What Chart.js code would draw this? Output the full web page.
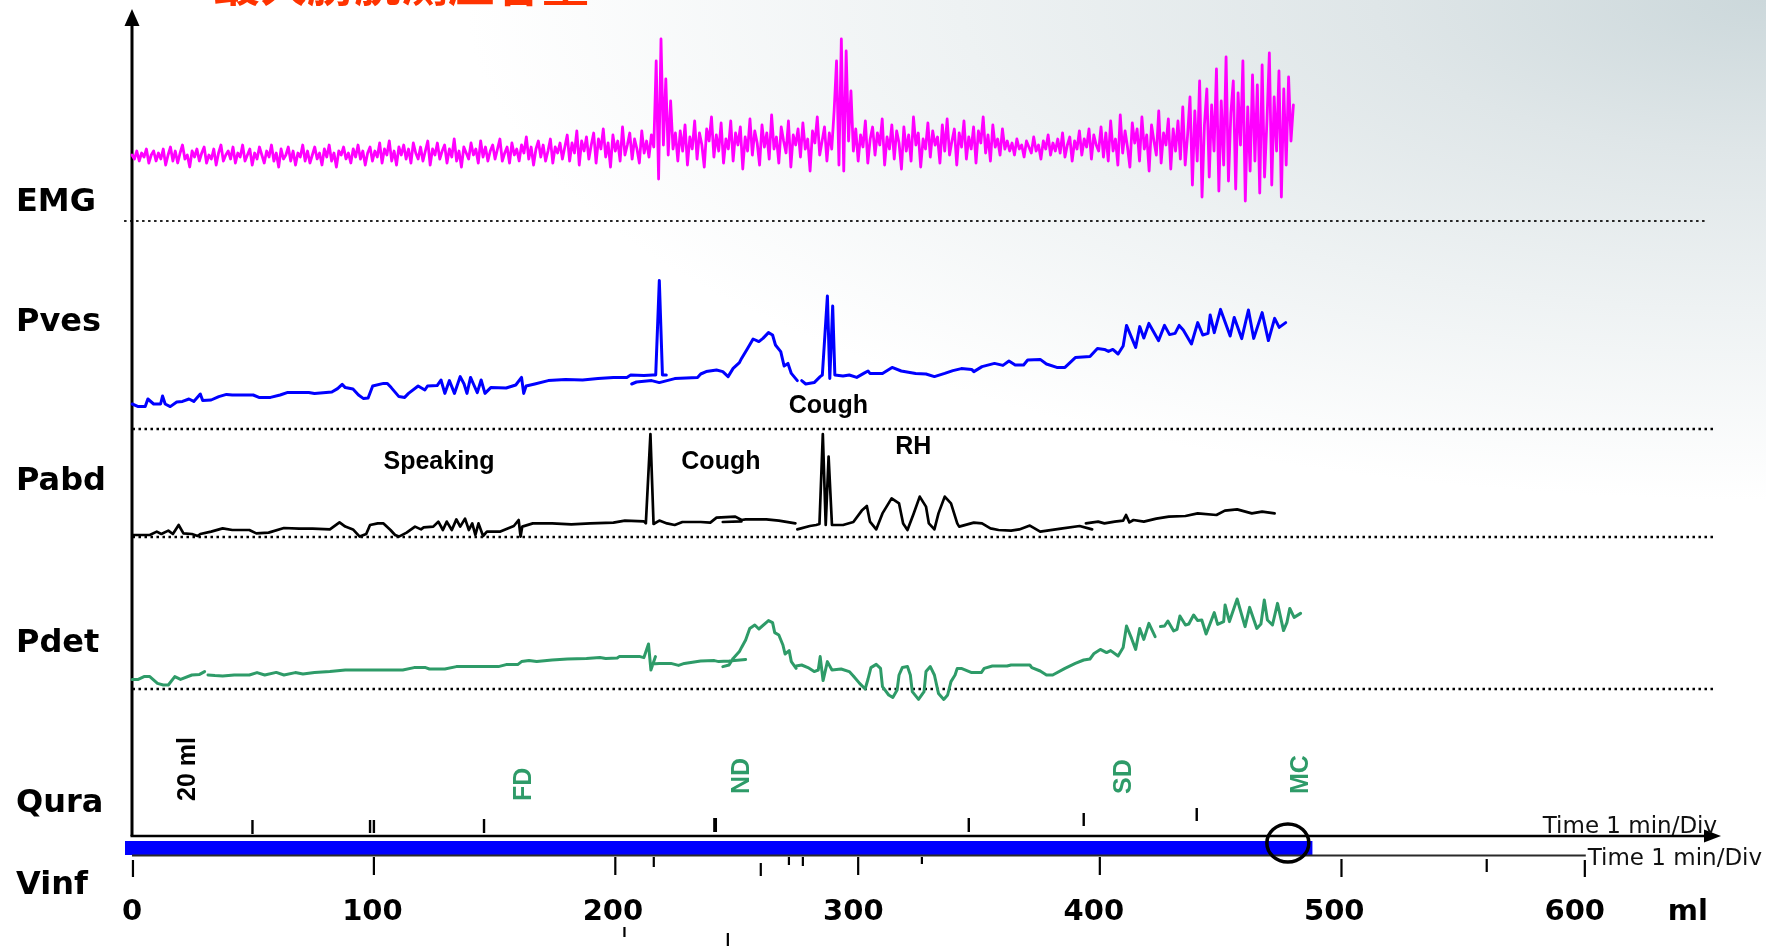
<!DOCTYPE html>
<html>
<head>
<meta charset="utf-8">
<script src="https://cdn.jsdelivr.net/npm/chart.js@4.4.1/dist/chart.umd.min.js"></script>
<style>
html,body{margin:0;padding:0;width:1766px;height:946px;overflow:hidden;}
body{background:radial-gradient(1300px 500px at 100% 0%, #ccd8db 0%, #dfe6e8 30%, #eef2f3 62%, #ffffff 100%);}
canvas{display:block;}
</style>
</head>
<body>
<canvas id="c" width="1766" height="946"></canvas>
<script>
// ---------------- DATA ----------------
const X_TICKS = [0, 100, 200, 300, 400, 500, 600];
const CHANNELS = ['EMG', 'Pves', 'Pabd', 'Pdet', 'Qura', 'Vinf'];

// EMG amplitude, one sample per ml starting at 0 ml
const EMG_START = 0, EMG_STEP = 1;
const EMG = [
33,31,35,30,34,32,36,29,33,35, 30,34,31,36,28,33,37,30,35,29, 34,38,31,33,27,35,32,36,30,34,
37,29,33,31,36,28,34,38,30,33, 35,31,37,29,34,32,38,30,33,36, 28,34,31,37,33,29,35,32,38,30,
34,27,36,31,33,37,30,35,28,34, 32,38,30,35,29,33,37,31,34,28, 36,32,38,30,34,27,35,33,37,31,
34,29,36,32,38,31,35,28,34,37,
30,35,32,39,29,36,33,40,30,35, 28,37,33,38,31,36,29,39,34,31, 37,30,35,40,28,36,33,39,31,35,
38,29,36,32,41,30,35,27,37,34, 31,39,33,36,29,40,32,37,30,35, 38,31,36,41,30,34,37,29,39,33,
36,30,38,34,42,31,37,28,36,40, 32,38,30,35,41,29,37,34,39,31,
37,43,30,39,34,45,28,40,35,42, 31,38,44,29,41,36,46,32,39,27, 43,35,40,30,47,33,38,44,31,41,
36,29,45,34,40,32,43,37,
80,21,91,38,71,33,60,36,44,
30,45,35,48,28,42,36,50,31,44, 38,27,46,40,52,32,43,35,49,29, 41,36,50,30,44,38,47,26,42,35,
51,33,45,39,28,48,37,44,31,53, 36,42,29,47,40,34,50,27,43,38, 46,32,49,36,41,25,45,39,52,33,
40,47,30,44,36,
55,80,28,91,25,85,40,65,35,
46,30,43,37,50,29,41,47,33,44, 38,51,28,42,36,48,31,45,39,26, 47,35,43,30,52,38,44,27,41,36,
49,32,45,38,42,29,48,35,51,33, 40,46,28,44,37,50,31,42,36,47, 29,45,39,52,34,43,30,48,37,41,
33,46,36,40,
35,39,33,41,36,38,32,40,37,34, 42,35,38,31,40,36,43,33,39,35, 41,34,44,32,38,42,30,40,36,45,
33,41,37,46,31,43,38,35,47,32,
44,30,50,35,41,28,53,34,45,37, 27,49,39,46,30,52,36,43,25,48, 40,33,55,29,44,38,51,26,46,35,
50,31,57,28,43,
62,18,55,30,70,12,48,66,22,58, 35,76,15,60,28,82,20,54,70,16, 64,38,80,10,57,25,73,30,68,14,
78,22,50,84,18,62,35,75,12,66, 28,72,40,58
];

// [ml, cmH2O]; null = pen lift
const PVES = [
[0.1,12.5],[2.6,11.2],[5.5,11.2],[6.6,15],[9,12.5],[11.9,12.5],[12.7,16.5],[13.8,12.5],[15.9,11.2],[18.6,13.5],[21,13.8],[23.7,15],[25.7,13.8],[28.4,17.5],[29.4,14.2],[32.9,14.5],[36.1,16.2],[39.3,17.3],[41.7,17],[50.4,17],[52.8,15.8],[57.6,15.8],[61.6,17],[64.8,18.3],[73.5,18.3],[75.9,17.8],[83.1,18.5],[85.5,20.2],[87.4,22.3],[88.7,20.7],[91.9,20],[94.2,17],[96.3,15.2],[98.2,15.5],[100.1,21.5],[104.6,22.8],[106.2,22.8],[107.8,20.7],[111,16.2],[113.4,15.8],[115,17.8],[119,21.5],[121.8,19.5],[122.9,21.5],[126.9,21.7],[128.5,24.5],[130.1,17.8],[132,24.2],[134.1,17.8],[136.5,26.2],[138.1,22.5],[139.3,17.8],[140.8,25.8],[142,22.5],[143.6,18.2],[145.2,24.5],[146.8,17.8],[149.2,20.7],[155.6,20.5],[159.6,22],[162,25.8],[162.9,17.8],[163.9,21.5],[167.5,22.5],[173.1,24.2],[180.3,24.8],[187.4,24.5],[193.8,25.2],[200.2,25.8],[205.8,25.8],[207.4,27],[212.9,26.8],[216.6,27],[217.8,27],[219.3,74.2],[220.6,27],[222.2,27],
null,
[207.8,22.5],[209.8,23.5],[216.1,24.2],[219.3,23.2],[222.5,24.2],[225.7,25.2],[235.2,25.8],[236.5,27.5],[238.8,28.7],[243.1,29.5],[245.7,28.7],[247.9,26.2],[250,30.3],[252.6,33.2],[253.5,35.3],[256,40.3],[258.3,45],[260.7,43.7],[262.4,45.3],[264.7,48.2],[266.4,47],[267.6,42],[269.8,38.7],[271.2,31.5],[272.8,32.8],[274.2,27.8],[276.7,24.2],
null,
[278.5,24.2],[280.2,22.5],[283.7,23.2],[286.2,26.2],[287.1,27],[289.2,66.5],[290.2,25.3],[291.4,61.5],[292.3,27],[295.7,26.5],[298.3,27],[301.4,25.8],[304.3,27.8],[306.1,29],[306.9,27.8],[312.1,27.8],[316.1,30.8],[319.9,29],[325.9,27.8],[330.2,27.5],[333.7,26.2],[338,27.8],[341.4,29.2],[344.9,30.2],[349.2,29.8],[350.1,28.7],[353.5,31.2],[358.7,32.8],[362.2,31.8],[364.7,34],[367.3,32],[370.8,32],[372.5,34.5],[377.7,34.8],[380.3,32.5],[384.6,30.8],[388,30.8],[390.1,33.2],[392.3,35.7],[398.4,36.2],[401.5,40.3],[404.4,39.8],[406.1,38.8],[407.9,39.8],[410.1,37.5],[412.2,41.5],[413.6,51.8],[417.4,40.8],[419.1,51.2],[420.8,45.5],[422.9,52.8],[426.9,44.2],[429.4,51.8],[431.5,47.2],[433.8,47.8],[435.5,51.8],[437.2,49.5],[440.6,42.5],[443.2,53.2],[445.3,47],[447.5,47.8],[448.4,57],[450.1,48.2],[452.7,59.8],[456.7,46.5],[458.4,55.8],[461.5,45.2],[464.3,59.5],[466.5,45.3],[470,58.2],[472.6,44.2],[475.2,55.3],[477.1,50.8],[479.8,53.2]
];

const PABD = [
[0.1,1],[7.4,1],[10.3,2.7],[12.2,1.5],[15.1,3.2],[17,1.5],[19.4,6],[21.4,1.8],[24.9,1.5],[27.3,0.5],[28.4,1.5],[32.9,2.7],[37.7,4.3],[41.7,3.5],[48.8,3.5],[51.7,1.8],[56.8,2.2],[63.2,4.5],[69.5,4.2],[75.1,4.2],[82.3,3.8],[86.3,7.3],[88.7,5.2],[91.9,3.8],[94.7,0.2],[97.4,1.5],[99,6],[102.2,6.8],[104.6,6.8],[107.5,3.5],[109.4,1],[111,0.2],[114.2,2.2],[117.7,5.2],[120.2,3.8],[121.3,4.8],[125.3,5.2],[127.4,7.7],[129.3,3.5],[130.9,7.7],[133,3.5],[134.9,8.8],[136.5,5.2],[138.5,9.2],[140.1,3.5],[141.5,6.8],[142.8,1],[144.1,6.8],[146,0.5],[147.6,2.7],[153.2,2.7],[158.8,5.5],[160.8,8.5],[161.6,0.2],[162.3,5.2],[166.7,6.8],[174.7,6.8],[182.7,6.3],[190.6,6.8],[200.2,7.2],[205,8.2],[212.9,7.8],[213.7,6.8],[215.6,51.5],[216.9,6.5],[219.3,8.2],[222.5,6.8],[225.7,6],[228.9,7.5],[236.5,7.5],[240.5,7.2],[243.1,9.7],[250.9,10.2],[253.5,8.5],[255.2,8.8],[263.8,8.8],[269,8.2],[275.9,6.8],
null,
[245.7,7.5],[253.5,7.8],
null,
[276.7,3.8],[281.9,5.5],[284.5,6],[285.9,6.5],[287.3,51.5],[288.5,6],[289.7,40.2],[291.1,6],[295.7,6],[300,7.5],[303.5,13.2],[305.6,15.5],[306.9,7.7],[309.5,3.8],[312.1,11.8],[315.9,19.3],[319,16.8],[320.7,6.8],[322.5,3.5],[325.1,11.8],[327.6,20.2],[330.2,15.2],[331.4,6.8],[333.7,3.8],[335.4,11.8],[338,20.2],[340.6,16.8],[343.2,6.8],[344,5.2],[350.1,7.2],[353.5,6.8],[357,4.3],[360.4,3.5],[365.6,3.2],[369,3.8],[373.4,5.7],[377.7,2.7],[386.3,4.2],[394.1,5.5],[399.3,3.8],
null,
[396.7,6.8],[401.8,7.7],[404.4,6.8],[408.7,7.7],[412.2,8.2],[413.4,11],[414.8,7.3],[416.5,8.5],[420.8,7.7],[426,9.2],[431.2,10.2],[438.1,10.5],[443.2,11.8],[451,11],[454.5,13.2],[459.6,13.8],[465.7,11.8],[470,12.7],[475.2,11.8]
];

const PDET = [
[0.1,4.8],[2.6,4.8],[5,6.2],[7.4,6.2],[10.6,2.8],[13,2],[15.1,2],[17.8,6.2],[20.2,4.8],[24.9,7],[28.1,7.3],[30.2,8.7],
null,
[31.6,7],[34.5,6.7],[37.7,6.5],[42.5,7],[48.8,7],[52,8.2],[55.2,7],[60,8.3],[63.2,7],[67.9,8.2],[71.1,7.5],[75.9,8.2],[82.3,8.7],[88.7,9.5],[112.6,9.5],[117.3,10.7],[122.1,10.7],[123.7,10],[130.1,10],[134.9,11.2],[152.4,11.2],[155.6,12.2],[160.4,12.2],[162,13.7],[165.1,14.2],[168.3,13.7],[174.7,14.5],[181.1,15],[189,15.3],[194.6,15.8],[197,15.3],[201.8,15.5],[202.6,16.2],[211.3,16.2],[212.9,15.7],[214.8,22.5],[215.8,9.5],[217.7,16.2],
null,
[216.1,12.5],[219.3,12.8],[224.1,12.8],[227.3,11.8],[229.7,12.8],[236.5,14],[242.2,14.2],[244,13.7],[248.3,14],[255.2,14.8],
null,
[245.7,11.2],[248.3,12],[250,15.3],[252.6,18.7],[253.5,20.8],[255.2,24.5],[256.9,30.3],[259,32],[260.7,30],[264.7,34.2],[266.4,33.2],[267.3,28.2],[269,27],[270.7,22],[271.6,17.5],[273.3,19.2],[274.2,13.7],[276.2,10.3],
null,
[276.2,11.5],[278.5,12],[281.1,10.7],[283.7,8.7],[285.4,9.5],[286.2,16.2],[287.4,4.2],[289.2,13.7],[291.1,9.5],[294.9,10],[298.3,8.7],[300,6.5],[302.6,2.8],[304.9,0],[306.1,5],[307.3,10.7],[309.5,12.3],[311.3,10.3],[312.1,1.2],[314.7,-3],[316.4,-4.2],[318.2,-0.5],[319,7],[320.4,10.8],[322.5,11.2],[323.7,7],[324.5,-1.3],[327.1,-5.2],[329.4,-1.3],[330.2,8.7],[332,11.2],[333.7,7],[335.4,-2.2],[337.6,-5.2],[339.2,-3],[340.6,3.7],[342.3,7],[343.2,10.3],[344.9,10.3],[349.2,8.2],[353.2,8.2],[354.4,10.3],[357.8,11.5],[363.9,11.5],[365.6,12],[373.4,12],[374.2,10.7],[377.7,9],[380.3,7],[382.9,7],[388,10.3],[392.3,12.8],[395.8,14.5],[398.4,15],[400.1,17.8],[402.7,19.8],[405.3,18.2],[407,19.2],[410.1,16.5],[412.2,20.8],[413.6,31.5],[415.7,25.3],[417.4,19.8],[419.1,30.3],[420.8,24.8],[422.9,32.8],[425.5,26.2],
null,
[427.7,31.2],[429.4,31.5],[430.8,34],[433.2,29],[434.6,29.8],[435.8,36.5],[438.1,32],[439.5,32.5],[441.5,37],[443.2,34.2],[444.9,34.5],[446.7,27.5],[450.1,38.2],[451.5,32.3],[454,33.7],[454.6,42],[456.4,33.7],[459.6,45],[462.9,31.2],[464.8,40.8],[467.8,30.3],[469.5,32.5],[470.9,44.5],[472.2,34.5],[474.3,32],[476.4,42.8],[478.9,29.2],[480.3,33.2],[481.5,40.3],[483.3,35.8],[486,37.8]
];

// Qura marks: position (ml), lower and upper end
const QURA_MARK_X  = [50.1, 99, 100.6, 146.4, 242.2, 242.8, 348, 395.8, 442.8];
const QURA_MARK_LO = [1, 1.5, 1.5, 1.5, 2, 2, 2, 5, 7.5];
const QURA_MARK_HI = [8, 8, 8, 8.5, 9, 9, 9, 11.5, 14];

// Vinf: infused volume bar and time-division marks
const VINF_BAR_X = [0, 488];
const VINF_BAR_LEVEL = 14;
const VINF_MARK_X  = [0.4, 100.6, 201, 217, 261.5, 273.2, 279, 302, 328.5, 402.5, 503, 563.4, 604.2, 204.8, 247.8];
const VINF_MARK_LO = [-0.5, 0.5, 0.5, 4.5, 0, 5.5, 5, 0.5, 6, 0.5, -0.5, 2, -0.5, -30.5, -35];
const VINF_MARK_HI = [8, 9.5, 9.5, 9.5, 6.5, 9.5, 9.5, 9.5, 9.5, 9.5, 8.5, 8.5, 8, -25.5, -28.5];

// sensation events
const EVENT_TEXT  = ['20 ml', 'FD', 'ND', 'SD', 'MC'];
const EVENT_X     = [23.5, 163, 253.6, 412.8, 486.3];
const EVENT_BASE  = [17.5, 17.5, 21, 21, 21];
const EVENT_COLOR = ['#000000', '#2e9b68', '#2e9b68', '#2e9b68', '#2e9b68'];

// trace annotations
const NOTE_TEXT = ['Speaking', 'Cough', 'Cough', 'RH'];
const NOTE_X    = [127.7, 244.9, 289.6, 324.9];
const NOTE_AXIS = ['yPabd', 'yPabd', 'yPves', 'yPabd'];
const NOTE_Y    = [37.5, 37.5, 11.5, 45];

const MC_MARK = {x: 480.7, y: 16.5};

// ---------------- HELPERS ----------------
function toPoints(pairs) {
  const out = []; let lastX = 0;
  pairs.forEach(p => {
    if (p === null) out.push({x: lastX, y: null});
    else { out.push({x: p[0], y: p[1]}); lastX = p[0]; }
  });
  return out;
}
function marks(xs, lo, hi) {
  const out = [];
  xs.forEach((x, i) => { out.push({x, y: lo[i]}, {x, y: hi[i]}, {x, y: null}); });
  return out;
}
const emgPoints = EMG.map((v, i) => ({x: EMG_START + i * EMG_STEP, y: v}));

const traceBase = {type: 'line', pointRadius: 0, tension: 0, clip: false, spanGaps: false,
                   borderJoinStyle: 'round', borderCapStyle: 'round', fill: false};

// ---------------- OVERLAY PLUGIN ----------------
const overlay = {
  id: 'overlay',
  beforeDatasetsDraw(chart) {
    const {ctx, chartArea: ca, scales: s} = chart;
    const X = v => s.x.getPixelForValue(v);
    ctx.save();
    // dotted channel baselines
    const bl = [['yEMG', -3.3, 654, 2, '#222'], ['yPves', 0.2, 657.8, 2.5, '#000'],
                ['yPabd', 0.2, 657.8, 2.5, '#000'], ['yPdet', 0.2, 657.8, 2.5, '#000']];
    bl.forEach(([ax, a, b, w, c]) => {
      const y = s[ax].getPixelForValue(0);
      ctx.setLineDash([2.5, 3.5]); ctx.lineWidth = w; ctx.strokeStyle = c;
      ctx.beginPath(); ctx.moveTo(X(a), y); ctx.lineTo(X(b), y); ctx.stroke();
    });
    ctx.setLineDash([]);
    // vertical axis with arrow
    const x0 = X(0), yb = s.yQura.getPixelForValue(0), yt = ca.top;
    ctx.strokeStyle = '#000'; ctx.fillStyle = '#000'; ctx.lineWidth = 3;
    ctx.beginPath(); ctx.moveTo(x0, yb); ctx.lineTo(x0, yt + 12); ctx.stroke();
    ctx.beginPath(); ctx.moveTo(x0, yt - 2); ctx.lineTo(x0 - 7.5, yt + 15); ctx.lineTo(x0 + 7.5, yt + 15); ctx.closePath(); ctx.fill();
    // time axis with arrow (Qura baseline)
    ctx.lineWidth = 2.5;
    ctx.beginPath(); ctx.moveTo(x0 - 1.5, yb); ctx.lineTo(ca.right - 12, yb); ctx.stroke();
    ctx.beginPath(); ctx.moveTo(ca.right + 2, yb); ctx.lineTo(ca.right - 15, yb - 6.5); ctx.lineTo(ca.right - 15, yb + 6.5); ctx.closePath(); ctx.fill();
    ctx.restore();
  },
  afterDatasetsDraw(chart) {
    const {ctx, chartArea: ca, scales: s} = chart;
    const X = v => s.x.getPixelForValue(v);
    ctx.save();
    // lower time line under Vinf bar
    const yl = s.yVinf.getPixelForValue(10.25);
    ctx.strokeStyle = '#2a2a2a'; ctx.lineWidth = 2;
    ctx.beginPath(); ctx.moveTo(X(0), yl); ctx.lineTo(X(604.6), yl); ctx.stroke();
    // MC circle
    ctx.strokeStyle = '#000'; ctx.lineWidth = 3.5;
    ctx.beginPath();
    ctx.ellipse(X(MC_MARK.x), s.yVinf.getPixelForValue(MC_MARK.y), 21, 19, 0, 0, Math.PI * 2);
    ctx.stroke();
    // channel labels
    ctx.fillStyle = '#000'; ctx.textAlign = 'left'; ctx.textBaseline = 'middle';
    ctx.font = 'bold 32px "DejaVu Sans", sans-serif';
    const labPos = {EMG: ['yEMG', 9], Pves: ['yPves', 53], Pabd: ['yPabd', 27.5], Pdet: ['yPdet', 22.5], Qura: ['yQura', 16], Vinf: ['yVinf', -5]};
    CHANNELS.forEach(c => { const [ax, v] = labPos[c]; ctx.fillText(c, 16, s[ax].getPixelForValue(v)); });
    // annotations
    ctx.textAlign = 'center';
    ctx.font = 'bold 25px "Liberation Sans", Arial, sans-serif';
    NOTE_TEXT.forEach((t, i) => ctx.fillText(t, X(NOTE_X[i]), s[NOTE_AXIS[i]].getPixelForValue(NOTE_Y[i])));
    // event labels (rotated)
    ctx.font = 'bold 25px "Liberation Sans", Arial, sans-serif';
    EVENT_TEXT.forEach((t, i) => {
      ctx.save();
      ctx.translate(X(EVENT_X[i]), s.yQura.getPixelForValue(EVENT_BASE[i]));
      ctx.rotate(-Math.PI / 2);
      ctx.textAlign = 'left'; ctx.textBaseline = 'middle'; ctx.fillStyle = EVENT_COLOR[i];
      ctx.fillText(t, 0, 0);
      ctx.restore();
    });
    // time-scale captions
    ctx.fillStyle = '#111'; ctx.textAlign = 'left'; ctx.textBaseline = 'alphabetic';
    ctx.font = '23px "DejaVu Sans", sans-serif';
    ctx.fillText('Time 1 min/Div', X(586.7), s.yQura.getPixelForValue(1.5));
    ctx.fillText('Time 1 min/Div', X(605.4), s.yVinf.getPixelForValue(5.5));
    // unit label on volume axis
    ctx.fillStyle = '#000'; ctx.textAlign = 'center'; ctx.textBaseline = 'middle';
    ctx.font = 'bold 29px "DejaVu Sans", sans-serif';
    ctx.fillText('ml', X(647), s.x.top + s.x.options.ticks.padding + 14.5);
    // cut-off slide title
    ctx.fillStyle = '#ff3300'; ctx.textAlign = 'left'; ctx.textBaseline = 'bottom';
    ctx.font = 'bold 47px "Noto Sans CJK SC", sans-serif';
    ctx.fillText('最大膀胱测压容量', 213, 7);
    ctx.restore();
  }
};

// ---------------- CHART ----------------
const yBand = (weight, order, max) => ({type: 'linear', display: false, stack: 'ch', stackWeight: weight,
  weight: order, min: 0, max: max, position: 'left'});

new Chart(document.getElementById('c'), {
  data: {
    datasets: [
      Object.assign({}, traceBase, {label: 'EMG', yAxisID: 'yEMG', data: emgPoints, borderColor: '#ff00ff', borderWidth: 2.8}),
      Object.assign({}, traceBase, {label: 'Pves', yAxisID: 'yPves', data: toPoints(PVES), borderColor: '#0000ff', borderWidth: 3}),
      Object.assign({}, traceBase, {label: 'Pabd', yAxisID: 'yPabd', data: toPoints(PABD), borderColor: '#000000', borderWidth: 2.7}),
      Object.assign({}, traceBase, {label: 'Pdet', yAxisID: 'yPdet', data: toPoints(PDET), borderColor: '#2e9b68', borderWidth: 3}),
      Object.assign({}, traceBase, {label: 'Qura', yAxisID: 'yQura', data: marks(QURA_MARK_X, QURA_MARK_LO, QURA_MARK_HI), borderColor: '#000', borderWidth: 2.4, borderCapStyle: 'butt'}),
      Object.assign({}, traceBase, {label: 'Vinf', yAxisID: 'yVinf', data: VINF_BAR_X.map(x => ({x, y: VINF_BAR_LEVEL})), borderColor: '#0000ff', borderWidth: 14, borderCapStyle: 'square'}),
      Object.assign({}, traceBase, {label: 'Vinf marks', yAxisID: 'yVinf', data: marks(VINF_MARK_X, VINF_MARK_LO, VINF_MARK_HI), borderColor: '#000', borderWidth: 2.2, borderCapStyle: 'butt'})
    ]
  },
  options: {
    responsive: false, animation: false, devicePixelRatio: 1, events: [],
    layout: {padding: {top: 11, left: 132, right: 47, bottom: 0}},
    plugins: {legend: {display: false}, tooltip: {enabled: false}},
    scales: {
      x: {type: 'linear', min: 0, max: 660, position: 'bottom',
          grid: {display: false, drawTicks: false}, border: {display: false},
          afterBuildTicks: sc => { sc.ticks = X_TICKS.map(v => ({value: v})); },
          afterFit: sc => { sc.height = 70; },
          ticks: {autoSkip: false, maxRotation: 0, minRotation: 0, padding: 22, color: '#000',
                  font: {family: '"DejaVu Sans", sans-serif', weight: 'bold', size: 29, lineHeight: 1}}},
      yEMG:  yBand(210, 6, 105),
      yPves: yBand(208, 5, 104),
      yPabd: yBand(108, 4, 54),
      yPdet: yBand(152, 3, 76),
      yQura: yBand(147, 2, 73.5),
      yVinf: yBand(40, 1, 20)
    }
  },
  plugins: [overlay]
});
</script>
</body>
</html>
